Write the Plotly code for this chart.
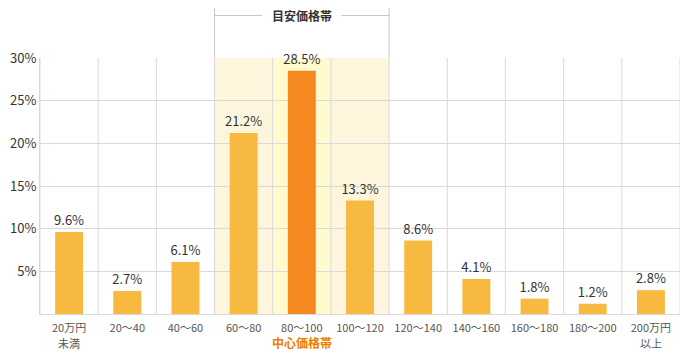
import plotly.graph_objects as go

categories = ["20万円", "20～40", "40～60", "60～80", "80～100", "100～120",
              "120～140", "140～160", "160～180", "180～200", "200万円"]
category_sublabels = ["未満", "", "", "", "", "", "", "", "", "", "以上"]
values = [9.6, 2.7, 6.1, 21.2, 28.5, 13.3, 8.6, 4.1, 1.8, 1.2, 2.8]
labels = ["9.6%", "2.7%", "6.1%", "21.2%", "28.5%", "13.3%", "8.6%", "4.1%", "1.8%", "1.2%", "2.8%"]
y_ticks = [5, 10, 15, 20, 25, 30]
y_tick_text = ["5%", "10%", "15%", "20%", "25%", "30%"]
center_index = 4
band_start, band_end = 3, 5

FONT = "Noto Sans CJK JP"
GRID = "#d9d9d9"
x = list(range(len(categories)))
colors = ["#f5891f" if i == center_index else "#f8b940" for i in x]

fig = go.Figure()
fig.add_trace(go.Bar(
    x=x, y=values, width=0.48, marker=dict(color=colors, line=dict(width=0)),
    text=labels, textposition="outside", cliponaxis=False, constraintext="none",
    textfont=dict(size=13, color="#333333", family=FONT),
    hoverinfo="skip",
))

shapes = []
shapes.append(dict(type="rect", xref="x", yref="paper", x0=band_start - 0.5, x1=band_end + 0.5,
                   y0=0, y1=1, fillcolor="#fdf6dd", line=dict(width=0), layer="below"))
shapes.append(dict(type="rect", xref="x", yref="paper", x0=center_index - 0.5, x1=center_index + 0.5,
                   y0=0, y1=1, fillcolor="#fffbcf", line=dict(width=0), layer="below"))
for i in range(len(categories) + 1):
    shapes.append(dict(type="line", xref="x", yref="paper", x0=i - 0.5, x1=i - 0.5, y0=0, y1=1,
                       line=dict(color=GRID, width=1), layer="below"))
top = 1.205
mid = 1.166
for xb in (band_start - 0.5, band_end + 0.5):
    shapes.append(dict(type="line", xref="x", yref="paper", x0=xb, x1=xb, y0=1, y1=top,
                       line=dict(color="#c8c8c8", width=1)))
shapes.append(dict(type="line", xref="x", yref="paper", x0=band_start - 0.5, x1=center_index - 0.68,
                   y0=mid, y1=mid, line=dict(color="#c8c8c8", width=1)))
shapes.append(dict(type="line", xref="x", yref="paper", x0=center_index + 0.68, x1=band_end + 0.5,
                   y0=mid, y1=mid, line=dict(color="#c8c8c8", width=1)))

annotations = [
    dict(x=center_index, y=mid, xref="x", yref="paper", text="<b>目安価格帯</b>", showarrow=False,
         font=dict(size=12, color="#333333", family=FONT), yanchor="middle"),
    dict(x=center_index, y=-0.112, xref="x", yref="paper", text="<b>中心価格帯</b>", showarrow=False,
         font=dict(size=12, color="#f07d00", family=FONT), yanchor="middle"),
]
for xi, sub in zip(x, category_sublabels):
    if sub:
        annotations.append(dict(x=xi, y=-0.113, xref="x", yref="paper", text=sub, showarrow=False,
                                font=dict(size=11, color="#555555", family=FONT), yanchor="middle"))

fig.update_layout(
    width=682, height=343,
    margin=dict(l=32, r=10, t=49.5, b=37, autoexpand=False),
    paper_bgcolor="white", plot_bgcolor="white",
    showlegend=False, bargap=0.52,
    shapes=shapes, annotations=annotations,
    font=dict(family=FONT, color="#333333"),
    xaxis=dict(tickmode="array", tickvals=x, ticktext=categories, range=[-0.5, len(categories) - 0.5],
               showgrid=False, zeroline=False, showline=True, linecolor=GRID, linewidth=1,
               ticks="", ticklabelstandoff=4, tickfont=dict(size=11, color="#555555", family=FONT),
               fixedrange=True, automargin=False),
    yaxis=dict(range=[0, 30], tickmode="array", tickvals=y_ticks, ticktext=y_tick_text,
               showgrid=True, gridcolor=GRID, gridwidth=1, zeroline=False,
               showline=True, linecolor=GRID, linewidth=1, ticks="",
               tickfont=dict(size=13, color="#333333", family=FONT), fixedrange=True,
               automargin=False),
)

fig.write_html("out.html")
